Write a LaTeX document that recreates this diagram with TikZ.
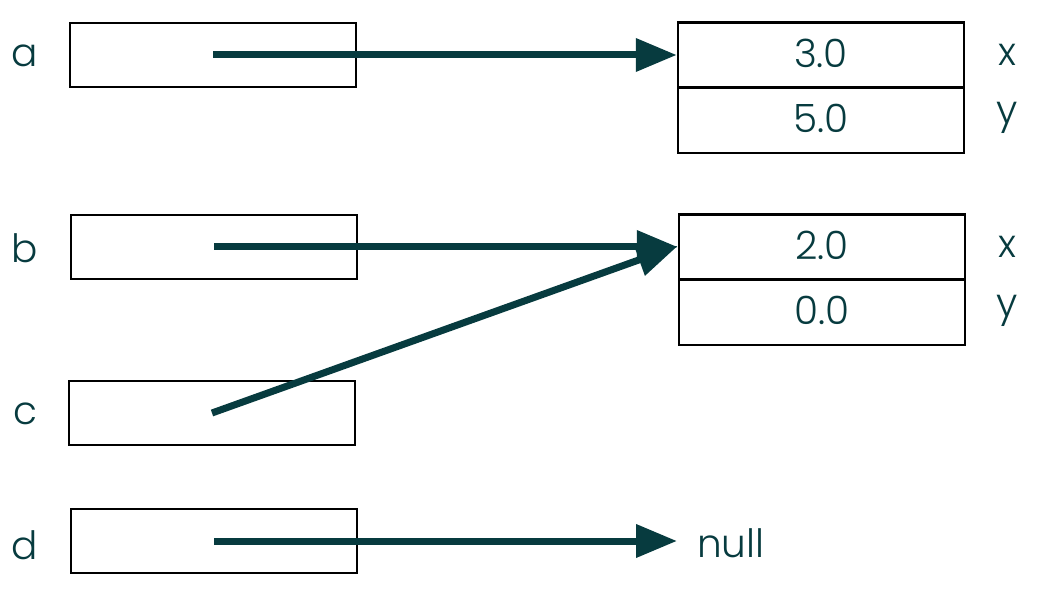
\documentclass[tikz,border=0pt]{standalone}
\usepackage{fontspec}
\setmainfont{Poppins}[UprightFont={* Light}]
\usetikzlibrary{arrows.meta}
\definecolor{ink}{HTML}{073B3F}
\begin{document}
\begin{tikzpicture}[x=1pt,y=-1pt,
  cell/.style={draw=black,line width=2.5pt,minimum width=286pt,minimum height=64pt,inner sep=0pt},
  txt/.style={text=ink,font=\fontsize{39}{44}\selectfont,inner sep=0pt},
  ptr/.style={draw=ink,line width=7pt,-{Triangle[length=41pt,width=32pt]}}]
\useasboundingbox (0,0) rectangle (1042,593);
% variable boxes
\node[cell] (va) at (213,55) {};
\node[cell] (vb) at (214,247) {};
\node[cell] (vc) at (212,413) {};
\node[cell] (vd) at (214,541) {};
\node[txt] (la) at (25,56) {a};
\node[txt] (lb) at (25,248) {b};
\node[txt] (lc) at (25,414) {c};
\node[txt] (ld) at (25,545) {d};
% first point object
\node[cell,minimum height=65pt] (p1x) at (821,55) {};
\node[cell,minimum height=65pt] (p1y) at (821,120.5) {};
\node[txt] at ([yshift=2pt]p1x) {3.0};
\node[txt] at ([yshift=2pt]p1y) {5.0};
\node[txt] (p1xl) at (1007,55) {x};
\node[txt] (p1yl) at (1007,118) {y};
% second point object
\node[cell,minimum height=65pt] (p2x) at (822,247) {};
\node[cell,minimum height=65pt] (p2y) at (822,312.5) {};
\node[txt] at ([yshift=2pt]p2x) {2.0};
\node[txt] at ([yshift=2pt]p2y) {0.0};
\node[txt] (p2xl) at (1007,247) {x};
\node[txt] (p2yl) at (1007,311) {y};
\node[txt,anchor=west] (nul) at (697,543) {null};
\coordinate (nullend) at (677,541);
% references
\draw[ptr] (va.center) -- (p1x.west);
\draw[ptr] (vb.center) -- (p2x.west);
\draw[ptr] (vc.center) -- ([yshift=1pt]p2x.west);
\draw[ptr] (vd.center) -- (nullend);
\end{tikzpicture}
\end{document}
